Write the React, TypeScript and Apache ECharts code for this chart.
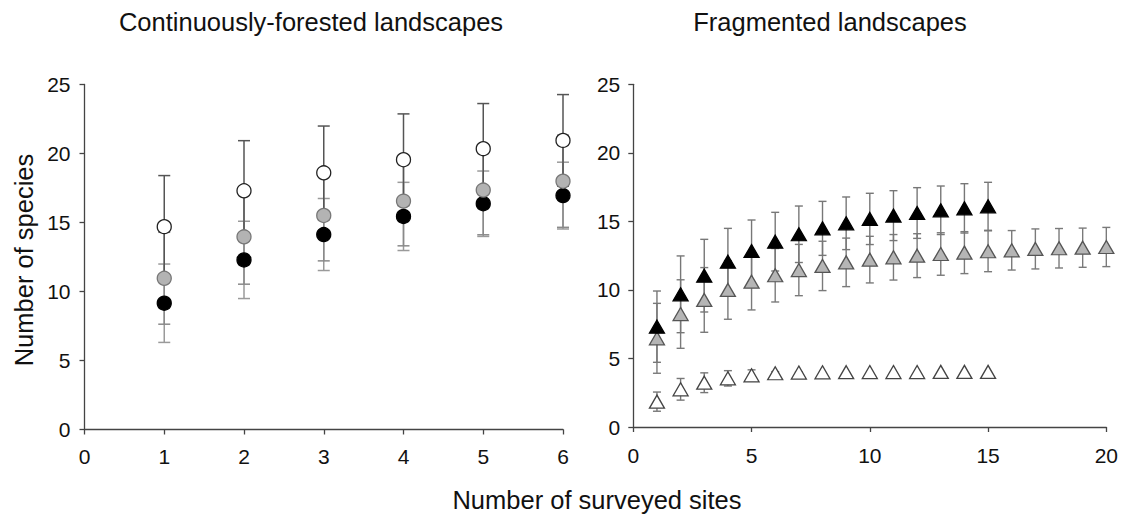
import React, { useEffect, useRef } from "react";
import * as echarts from "echarts";

// ---- Data ----
const contSites = [1, 2, 3, 4, 5, 6];
const contOpen = [14.7, 17.3, 18.6, 19.55, 20.35, 20.95];
const contOpenErr = [3.7, 3.63, 3.39, 3.32, 3.27, 3.32];
const contGray = [10.96, 13.96, 15.51, 16.55, 17.35, 17.99];
const contGrayErr = [3.33, 3.43, 3.29, 3.24, 3.24, 3.34];
const contBlack = [9.15, 12.29, 14.13, 15.44, 16.36, 16.95];
const contBlackErr = [2.84, 2.8, 2.61, 2.47, 2.37, 2.42];

const fragSites15 = [1, 2, 3, 4, 5, 6, 7, 8, 9, 10, 11, 12, 13, 14, 15];
const fragSites20 = [1, 2, 3, 4, 5, 6, 7, 8, 9, 10, 11, 12, 13, 14, 15, 16, 17, 18, 19, 20];
const fragBlack = [7.32, 9.68, 11.04, 12.06, 12.84, 13.52, 14.06, 14.49, 14.86, 15.18, 15.42, 15.61, 15.81, 15.95, 16.1];
const fragBlackErr = [2.6, 2.8, 2.65, 2.43, 2.26, 2.14, 2.06, 1.97, 1.92, 1.87, 1.82, 1.85, 1.77, 1.8, 1.75];
const fragGray = [6.47, 8.24, 9.27, 10.0, 10.6, 11.07, 11.45, 11.75, 12.01, 12.21, 12.38, 12.5, 12.62, 12.72, 12.82, 12.89, 12.99, 13.04, 13.08, 13.13];
const fragGrayErr = [2.55, 2.5, 2.36, 2.14, 2.06, 1.95, 1.87, 1.8, 1.77, 1.7, 1.66, 1.6, 1.55, 1.53, 1.49, 1.44, 1.46, 1.44, 1.43, 1.43];
const fragOpen = [1.85, 2.75, 3.23, 3.55, 3.77, 3.92, 3.97, 3.99, 4.0, 4.01, 4.01, 4.01, 4.02, 4.02, 4.02];
const fragOpenErr = [0.7, 0.79, 0.72, 0.56, 0.4, 0.12, 0.05, 0.02, 0.01, 0, 0, 0, 0, 0, 0];

const yTicks = [0, 5, 10, 15, 20, 25];
const leftTitle = "Continuously-forested landscapes";
const rightTitle = "Fragmented landscapes";
const yName = "Number of species";
const xName = "Number of surveyed sites";

const FONT = "'Liberation Sans', Arial, Helvetica, sans-serif";

function errData(xs: number[], m: number[], e: number[]) {
  return xs.map((x, i) => [x, m[i] - e[i], m[i] + e[i]]);
}
function ptData(xs: number[], m: number[]) {
  return xs.map((x, i) => [x, m[i]]);
}

function errSeries(data: number[][], axis: number, color: string, capW: number, lw: number) {
  return {
    type: "custom",
    xAxisIndex: axis,
    yAxisIndex: axis,
    data,
    z: 2,
    silent: true,
    encode: { x: 0, y: [1, 2] },
    renderItem: (params: any, api: any) => {
      const x = api.value(0);
      const lo = api.value(1);
      const hi = api.value(2);
      const a = api.coord([x, lo]);
      const b = api.coord([x, hi]);
      if (Math.abs(a[1] - b[1]) < 1) return null;
      const h = capW / 2;
      const st = { stroke: color, lineWidth: lw };
      return {
        type: "group",
        children: [
          { type: "line", shape: { x1: a[0], y1: a[1], x2: b[0], y2: b[1] }, style: st },
          { type: "line", shape: { x1: a[0] - h, y1: a[1], x2: a[0] + h, y2: a[1] }, style: st },
          { type: "line", shape: { x1: b[0] - h, y1: b[1], x2: b[0] + h, y2: b[1] }, style: st },
        ],
      };
    },
  };
}

function ptSeries(data: number[][], axis: number, symbol: string, size: any, fill: string, stroke: string, z: number) {
  return {
    type: "scatter",
    xAxisIndex: axis,
    yAxisIndex: axis,
    data,
    symbol,
    symbolSize: size,
    z,
    itemStyle: { color: fill, borderColor: stroke, borderWidth: 1.3, opacity: 1 },
  };
}

const axisCommon = {
  axisLine: { show: true, onZero: false, lineStyle: { color: "#444", width: 1.3 } },
  axisTick: { show: true, inside: false, length: 5, lineStyle: { color: "#444", width: 1.3 } },
  splitLine: { show: false },
  axisLabel: { color: "#111", fontSize: 21, fontFamily: FONT },
};

export default function App() {
  const ref = useRef<HTMLDivElement>(null);
  useEffect(() => {
    if (!ref.current) return;
    const chart = echarts.init(ref.current, null, { renderer: "svg" });
    const option: any = {
      animation: false,
      backgroundColor: "#fff",
      textStyle: { fontFamily: FONT },
      grid: [
        { left: 84.5, top: 84.5, width: 478.5, height: 345, containLabel: false },
        { left: 633.3, top: 84.3, width: 476.4, height: 342.7, containLabel: false },
      ],
      xAxis: [
        { ...axisCommon, type: "value", gridIndex: 0, min: 0, max: 6, interval: 1, axisLabel: { ...axisCommon.axisLabel, margin: 16 } },
        { ...axisCommon, type: "value", gridIndex: 1, min: 0, max: 20, interval: 5, axisLabel: { ...axisCommon.axisLabel, margin: 18 } },
      ],
      yAxis: [
        { ...axisCommon, type: "value", gridIndex: 0, min: yTicks[0], max: yTicks[yTicks.length - 1], interval: 5, axisLabel: { ...axisCommon.axisLabel, margin: 14 } },
        { ...axisCommon, type: "value", gridIndex: 1, min: yTicks[0], max: yTicks[yTicks.length - 1], interval: 5, axisLabel: { ...axisCommon.axisLabel, margin: 13 } },
      ],
      graphic: [
        { type: "text", x: 311, y: 22, style: { text: leftTitle, fontSize: 25.5, fontFamily: FONT, fill: "#111", textAlign: "center", textVerticalAlign: "middle" } },
        { type: "text", x: 830, y: 22, style: { text: rightTitle, fontSize: 25.5, fontFamily: FONT, fill: "#111", textAlign: "center", textVerticalAlign: "middle" } },
        { type: "text", x: 597, y: 500, style: { text: xName, fontSize: 25.5, fontFamily: FONT, fill: "#111", textAlign: "center", textVerticalAlign: "middle" } },
        { type: "text", x: 24, y: 260, rotation: Math.PI / 2, style: { text: yName, fontSize: 25.5, fontFamily: FONT, fill: "#111", textAlign: "center", textVerticalAlign: "middle" } },
      ],
      series: [
        errSeries(errData(contSites, contBlack, contBlackErr), 0, "#9a9a9a", 12, 1.5),
        errSeries(errData(contSites, contGray, contGrayErr), 0, "#8a8a8a", 12, 1.5),
        errSeries(errData(contSites, contOpen, contOpenErr), 0, "#555", 12, 1.5),
        ptSeries(ptData(contSites, contBlack), 0, "circle", 14, "#000", "#000", 5),
        ptSeries(ptData(contSites, contGray), 0, "circle", 14, "#b3b3b3", "#777", 5),
        ptSeries(ptData(contSites, contOpen), 0, "circle", 14, "#fff", "#222", 6),

        errSeries(errData(fragSites15, fragOpen, fragOpenErr), 1, "#777", 8, 1.4),
        errSeries(errData(fragSites20, fragGray, fragGrayErr), 1, "#7a7a7a", 8, 1.4),
        errSeries(errData(fragSites15, fragBlack, fragBlackErr), 1, "#777", 8, 1.4),
        ptSeries(ptData(fragSites15, fragOpen), 1, "triangle", [15, 13], "#fff", "#444", 5),
        ptSeries(ptData(fragSites20, fragGray), 1, "triangle", [15, 13], "#b5b5b5", "#555", 5),
        ptSeries(ptData(fragSites15, fragBlack), 1, "triangle", [15, 13], "#000", "#000", 6),
      ],
    };
    chart.setOption(option);
    return () => chart.dispose();
  }, []);
  return (
    <div
      ref={ref}
      style={{ position: "fixed", left: 0, top: 0, width: 1121, height: 515, background: "#fff" }}
    />
  );
}
